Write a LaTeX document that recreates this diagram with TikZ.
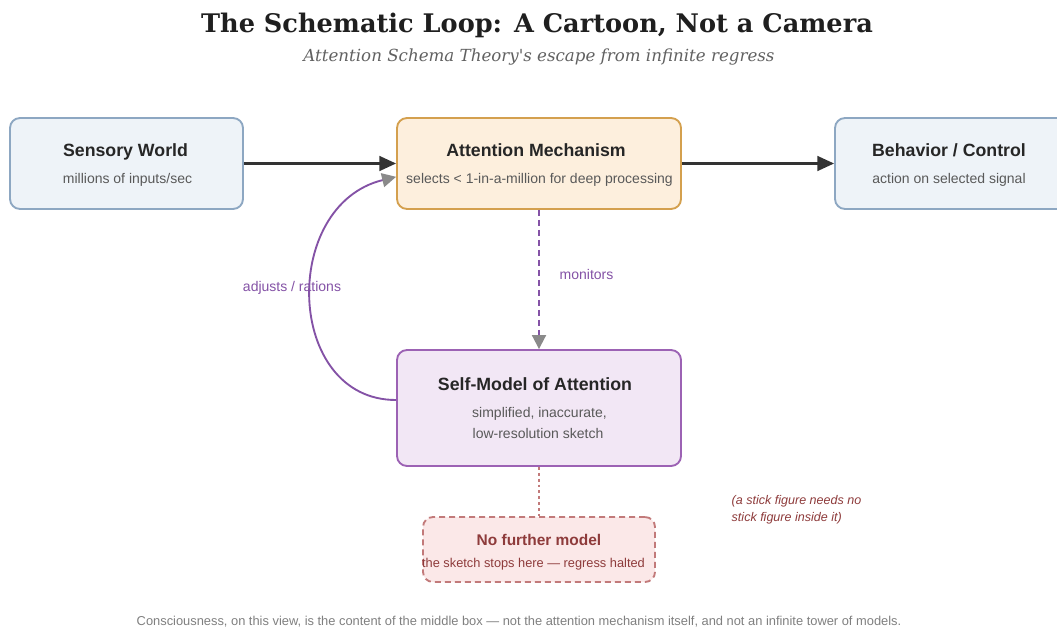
\documentclass[tikz,border=0pt]{standalone}
\usepackage{fontspec}
\setmainfont{Liberation Sans}
\newfontfamily\headserif{DejaVu Serif}
\usetikzlibrary{arrows.meta}
\definecolor{worldFill}{HTML}{EEF3F8}
\definecolor{worldLine}{HTML}{8DA7C2}
\definecolor{attnFill}{HTML}{FDEFDD}
\definecolor{attnLine}{HTML}{D4A04E}
\definecolor{modelFill}{HTML}{F2E7F5}
\definecolor{modelLine}{HTML}{9C62B4}
\definecolor{stopFill}{HTML}{FBE8E8}
\definecolor{stopLine}{HTML}{C27A7A}
\definecolor{stopText}{HTML}{8E3B3B}
\definecolor{linkPurple}{HTML}{8452A6}
\definecolor{headGray}{HTML}{8A8A8A}
\tikzset{
  box/.style={draw, rounded corners=7.5pt, line width=1.4pt, inner sep=0pt},
  boxtitle/.style={font=\bfseries\fontsize{13.3}{16}\selectfont, text=black!85, text height=1.5ex, text depth=.25ex},
  boxsub/.style={font=\fontsize{10.5}{12.5}\selectfont, text=black!65, text height=1.5ex, text depth=.25ex},
  flow/.style={draw=black!80, line width=1.8pt, -{Triangle[length=12.5pt, width=11pt]}},
  graytip/.style={-{Triangle[length=10.5pt, width=10.5pt, color=headGray]}},
  linklabel/.style={font=\fontsize{10.5}{12.5}\selectfont, text=linkPurple}
}
\begin{document}
\begin{tikzpicture}[x=0.75pt, y=-0.75pt]
% canvas in px, y pointing down
\useasboundingbox[fill=white] (0,0) rectangle (1057,631);
% heading
\node[font=\headserif\bfseries\fontsize{19.2}{23}\selectfont, text=black!88] (title) at (537,25) {The Schematic Loop: A Cartoon, Not a Camera};
\node[font=\headserif\itshape\fontsize{12.5}{15}\selectfont, text=black!62] (subtitle) at (539,57) {Attention Schema Theory's escape from infinite regress};
% boxes
\node[box, fill=worldFill, draw=worldLine, minimum width=174.75pt, minimum height=68.25pt] (sensory) at (126.5,163.5) {};
\node[box, fill=attnFill, draw=attnLine, minimum width=213pt, minimum height=68.25pt] (attn) at (539,163.5) {};
\node[box, fill=worldFill, draw=worldLine, minimum width=174.75pt, minimum height=68.25pt] (behavior) at (951.5,163.5) {};
\node[box, fill=modelFill, draw=modelLine, minimum width=213pt, minimum height=87pt] (model) at (539,408) {};
\node[box, fill=stopFill, draw=stopLine, dash pattern=on 4.5pt off 3pt, minimum width=174pt, minimum height=48.75pt] (stop) at (539,549.5) {};
% box texts
\node[boxtitle] (sensoryT) at (125.5,152) {Sensory World};
\node[boxsub] (sensoryS) at (127.5,179) {millions of inputs/sec};
\node[boxtitle] (attnT) at (536,152) {Attention Mechanism};
\node[boxsub] (attnS) at (539.5,179) {selects < 1-in-a-million for deep processing};
\node[boxtitle] (behaviorT) at (949,152) {Behavior / Control};
\node[boxsub] (behaviorS) at (949,179) {action on selected signal};
\node[boxtitle] (modelT) at (535,386) {Self-Model of Attention};
\node[boxsub] (modelS) at (539.5,413) {simplified, inaccurate,};
\node[boxsub] (modelS2) at (538,434) {low-resolution sketch};
\node[boxtitle, text=stopText, font=\bfseries\fontsize{11.6}{13}\selectfont] (stopT) at (539,541) {No further model};
\node[boxsub, text=stopText, font=\fontsize{9.6}{12}\selectfont] (stopS) at (533.5,563) {the sketch stops here — regress halted};
% connectors
\draw[flow] (sensory.east) -- (attn.west);
\draw[flow] (attn.east) -- (behavior.west);
\draw[linkPurple, line width=1.4pt, dash pattern=on 4.5pt off 3pt, graytip] (attn.south) -- (model.north);
\draw[linkPurple, line width=1.4pt, graytip]
  ([yshift=6pt]model.west) .. controls (285,400) and (280,205) .. ([yshift=-10pt]attn.west);
\draw[stopLine, line width=1.4pt, dash pattern=on 2.2pt off 2.2pt] (model.south) -- (stop.north);
% labels
\node[linklabel] (adjustL) at (292,288) {adjusts / rations};
\node[linklabel, anchor=west] (monitorL) at (555,274) {monitors};
\node[font=\itshape\fontsize{9.4}{12.8}\selectfont, text=stopText, align=left, anchor=north west] (note) at (727,491) {(a stick figure needs no\\stick figure inside it)};
% footer
\node[font=\fontsize{9.65}{11}\selectfont, text=black!50] (footer) at (519,622) {Consciousness, on this view, is the content of the middle box — not the attention mechanism itself, and not an infinite tower of models.};
\end{tikzpicture}
\end{document}
